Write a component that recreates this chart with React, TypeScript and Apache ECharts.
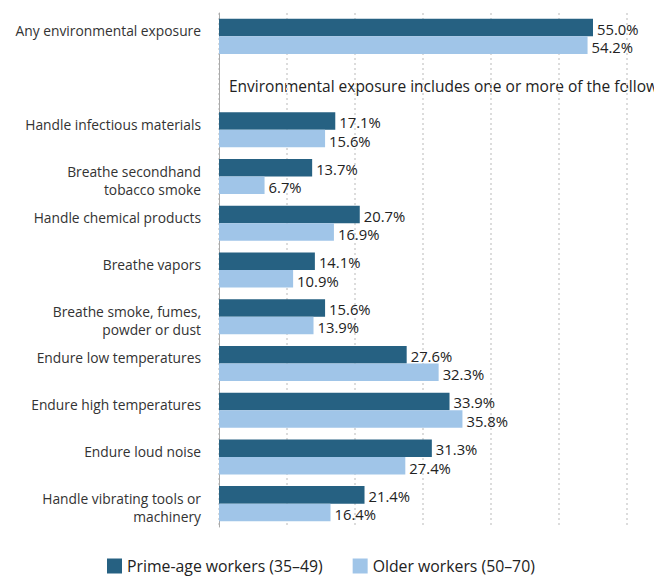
import React, { useEffect, useRef } from "react";
import * as echarts from "echarts";

const categories = [
  "Any environmental exposure",
  "",
  "Handle infectious materials",
  "Breathe secondhand\ntobacco smoke",
  "Handle chemical products",
  "Breathe vapors",
  "Breathe smoke, fumes,\npowder or dust",
  "Endure low temperatures",
  "Endure high temperatures",
  "Endure loud noise",
  "Handle vibrating tools or\nmachinery",
];

const primeAge: (number | null)[] = [55.0, null, 17.1, 13.7, 20.7, 14.1, 15.6, 27.6, 33.9, 31.3, 21.4];
const older: (number | null)[] = [54.2, null, 15.6, 6.7, 16.9, 10.9, 13.9, 32.3, 35.8, 27.4, 16.4];

const seriesNames = ["Prime-age workers (35–49)", "Older workers (50–70)"];
const note = "Environmental exposure includes one or more of the following:";

const FONT = "'Open Sans', Lato, sans-serif";

export default function App() {
  const ref = useRef<HTMLDivElement>(null);
  useEffect(() => {
    if (!ref.current) return;
    const chart = echarts.init(ref.current, null, { renderer: "svg" });
    const labelFmt = (p: any) => (p.value == null ? "" : `${Number(p.value).toFixed(1)}%`);
    const catFmt = (v: string) => {
      if (v === "") return "";
      const lines = v.split("\n");
      if (lines.length < 2) lines.push(" ");
      return "{s| }\n" + lines.map((l) => `{t|${l}}`).join("\n");
    };
    chart.setOption({
      animation: false,
      textStyle: { fontFamily: FONT },
      grid: { left: 219, width: 476, top: 13, bottom: 49, containLabel: false, outerBoundsMode: "none" },
      xAxis: {
        type: "value",
        min: 0,
        max: 70,
        interval: 10,
        axisLabel: { show: false },
        axisLine: { show: false },
        axisTick: { show: false },
        splitLine: { show: true, lineStyle: { color: "#dcdcdc", type: [2, 3], width: 2 } },
      },
      yAxis: {
        type: "category",
        data: categories,
        inverse: true,
        axisTick: { show: false },
        axisLine: { show: true, lineStyle: { color: "#aaaaaa", width: 1 } },
        axisLabel: {
          interval: 0,
          hideOverlap: false,
          color: "#333333",
          fontFamily: FONT,
          margin: 18,
          align: "right",
          verticalAlign: "middle",
          formatter: catFmt,
          rich: {
            s: { fontSize: 1, lineHeight: 7, align: "right" },
            t: { fontSize: 13.8, lineHeight: 18, color: "#333333", fontFamily: FONT, align: "right" },
          },
        },
      },
      legend: {
        bottom: -3,
        left: 102,
        itemWidth: 15,
        itemHeight: 15,
        itemGap: 30,
        icon: "rect",
        textStyle: { fontSize: 15.8, color: "#222222", fontFamily: FONT, lineHeight: 16 },
        data: seriesNames,
      },
      graphic: [
        {
          type: "text",
          left: 229,
          top: 78,
          style: { text: note, fontSize: 15.5, fill: "#222222", fontFamily: FONT },
        },
      ],
      series: [
        {
          name: seriesNames[0],
          type: "bar",
          data: primeAge,
          barGap: "0%",
          barCategoryGap: "25%",
          itemStyle: { color: "#266182" },
          label: { show: true, position: "right", distance: 4, formatter: labelFmt, color: "#222222", fontSize: 14.8, lineHeight: 15, fontFamily: FONT, offset: [0, 1] },
        },
        {
          name: seriesNames[1],
          type: "bar",
          data: older,
          barGap: "0%",
          barCategoryGap: "25%",
          itemStyle: { color: "#a0c5e8" },
          label: { show: true, position: "right", distance: 4, formatter: labelFmt, color: "#222222", fontSize: 14.8, lineHeight: 15, fontFamily: FONT, offset: [0, 2] },
        },
      ],
    });
    return () => chart.dispose();
  }, []);
  return <div ref={ref} style={{ position: "absolute", left: 0, top: 0, width: 654, height: 576 }} />;
}
